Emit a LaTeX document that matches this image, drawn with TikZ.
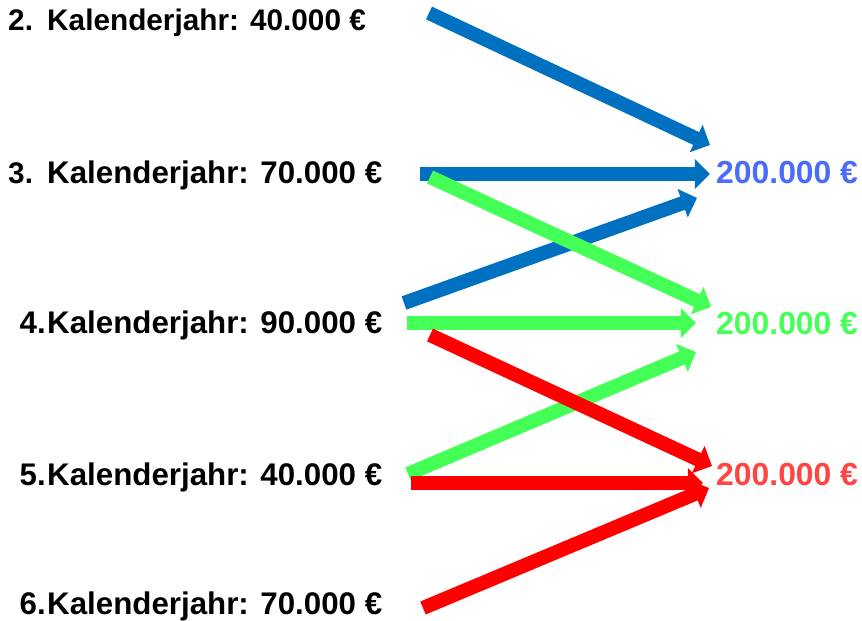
\documentclass[tikz,border=0pt]{standalone}
\usepackage{fontspec}
\setmainfont{Liberation Sans}
\usetikzlibrary{arrows.meta}
\definecolor{pfeilblau}{HTML}{0070C0}
\definecolor{pfeilgruen}{HTML}{44FF55}
\definecolor{pfeilrot}{HTML}{FF0000}
\definecolor{textblau}{HTML}{4B6CF8}
\definecolor{textrot}{HTML}{FF4444}

\begin{document}
\begin{tikzpicture}[x=0.03cm, y=-0.03cm,
  txt/.style={inner sep=0, font=\fontsize{26.7}{30}\selectfont\bfseries},
  txtklein/.style={inner sep=0, font=\fontsize{25.4}{30}\selectfont\bfseries},
  summe/.style={inner sep=0, anchor=base west, font=\fontsize{27.2}{30}\selectfont\bfseries},
  flow/.style={line width=12pt, -{Triangle[width=25pt,length=13pt]}}]
\useasboundingbox (0,0) rectangle (862,621);
% Kalenderjahre links
\node[txtklein, anchor=base west] (n2) at (8,31)  {2.};
\node[txtklein, anchor=base west] (n3) at (8,184) {3.};
\node[txt, anchor=base east] (n4) at (46,333) {4.};
\node[txt, anchor=base east] (n5) at (46,485) {5.};
\node[txt, anchor=base east] (n6) at (46,614) {6.};
\node[txtklein, anchor=base west] (j2) at (47,31)  {Kalenderjahr: 40.000 €};
\node[txt, anchor=base west] (j3) at (47,184) {Kalenderjahr: 70.000 €};
\node[txt, anchor=base west] (j4) at (47,333) {Kalenderjahr: 90.000 €};
\node[txt, anchor=base west] (j5) at (47,485) {Kalenderjahr: 40.000 €};
\node[txt, anchor=base west] (j6) at (47,614) {Kalenderjahr: 70.000 €};
% Summen rechts
\node[summe, text=textblau]   (sb) at (716,184) {200.000 €};
\node[summe, text=pfeilgruen] (sg) at (716,334) {200.000 €};
\node[summe, text=textrot]    (sr) at (716,485) {200.000 €};
% Pfeilenden
\coordinate (b1) at (429,13);  \coordinate (bb1) at (710,145);
\coordinate (b2) at (420,174); \coordinate (bb2) at (710,174);
\coordinate (b3) at (404,303); \coordinate (bb3) at (697,198);
\coordinate (g1) at (430,177); \coordinate (gg1) at (711,307);
\coordinate (g2) at (407,323); \coordinate (gg2) at (696,323);
\coordinate (g3) at (408,474); \coordinate (gg3) at (696,352);
\coordinate (r1) at (430,335); \coordinate (rr1) at (712,466);
\coordinate (r2) at (411,483); \coordinate (rr2) at (703,483);
\coordinate (r3) at (423,608); \coordinate (rr3) at (709,488);
% blau
\draw[flow, pfeilblau] (b1) -- (bb1);
\draw[flow, pfeilblau] (b2) -- (bb2);
\draw[flow, pfeilblau] (b3) -- (bb3);
% gruen
\draw[flow, pfeilgruen] (g1) -- (gg1);
\draw[flow, pfeilgruen] (g2) -- (gg2);
\draw[flow, pfeilgruen] (g3) -- (gg3);
% rot
\draw[flow, pfeilrot] (r1) -- (rr1);
\draw[flow, pfeilrot] (r2) -- (rr2);
\draw[flow, pfeilrot] (r3) -- (rr3);
\end{tikzpicture}
\end{document}
